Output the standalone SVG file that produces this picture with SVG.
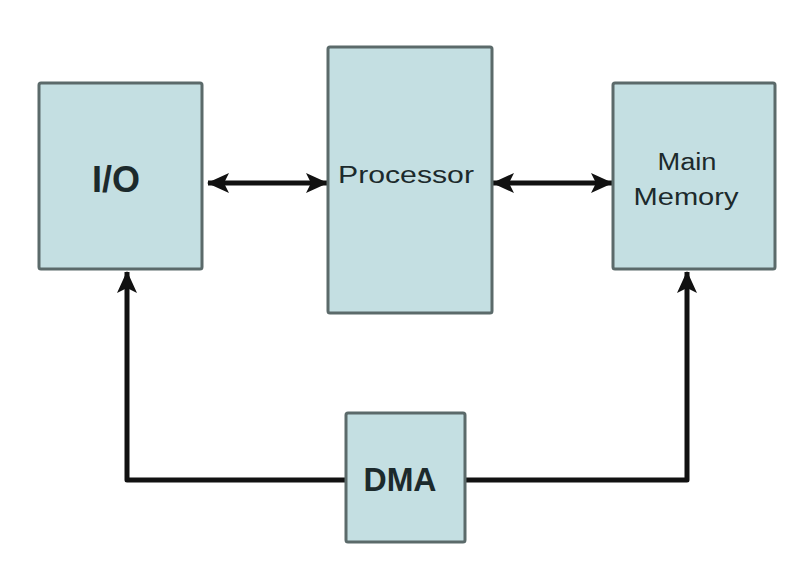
<svg xmlns="http://www.w3.org/2000/svg" width="802" height="570" viewBox="0 0 802 570">
<style>
.box{fill:#c4dfe2;stroke:#5b6a6a;stroke-width:3}
.lbl{font-family:"Liberation Sans",Arial,sans-serif;fill:#1c2a2c;text-anchor:middle}
.b{font-weight:bold}
.wire{fill:none;stroke:#111;stroke-width:5;stroke-linejoin:round;stroke-linecap:butt}
</style>
<defs>
<marker id="ah" viewBox="0 0 22 22" refX="21" refY="11" markerWidth="22" markerHeight="22" markerUnits="userSpaceOnUse" orient="auto-start-reverse">
<path d="M0,1 L22,11 L0,21 L5,11 Z" fill="#111"/>
</marker>
</defs>
<rect width="802" height="570" fill="#fff"/>
<g id="connectors">
<line class="wire" x1="208" y1="183" x2="327" y2="183" marker-start="url(#ah)" marker-end="url(#ah)"/>
<line class="wire" x1="493" y1="183" x2="612" y2="183" marker-start="url(#ah)" marker-end="url(#ah)"/>
<path class="wire" d="M346,480 H127 V272" marker-end="url(#ah)"/>
<path class="wire" d="M466,480 H687 V272" marker-end="url(#ah)"/>
</g>
<g id="io">
<rect class="box" x="39" y="83" width="163" height="186" rx="2"/>
<text class="lbl b" x="116" y="192" font-size="36">I/O</text>
</g>
<g id="processor">
<rect class="box" x="328" y="47" width="164" height="266" rx="2"/>
<text class="lbl" x="406" y="183" font-size="23" textLength="136" lengthAdjust="spacingAndGlyphs">Processor</text>
</g>
<g id="memory">
<rect class="box" x="613" y="83" width="162" height="186" rx="2"/>
<text class="lbl" x="687" y="170" font-size="23" textLength="59" lengthAdjust="spacingAndGlyphs">Main</text>
<text class="lbl" x="686" y="205" font-size="23" textLength="105" lengthAdjust="spacingAndGlyphs">Memory</text>
</g>
<g id="dma">
<rect class="box" x="346" y="413" width="119" height="129" rx="2"/>
<text class="lbl b" x="400" y="491" font-size="33" textLength="73" lengthAdjust="spacingAndGlyphs">DMA</text>
</g>
</svg>
